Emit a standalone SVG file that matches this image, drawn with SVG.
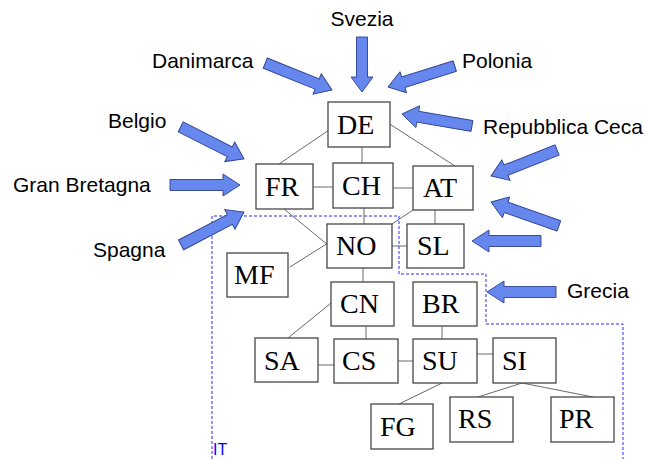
<svg xmlns="http://www.w3.org/2000/svg" width="646" height="459" viewBox="0 0 646 459">
  <style>
    .box { fill: #ffffff; stroke: #474747; stroke-width: 1.3; }
    .code { font-family: "Liberation Serif", "Times New Roman", serif; font-size: 28px; fill: #000000; }
    .link { stroke: #6a6a6a; stroke-width: 1; fill: none; }
    .arrow { fill: #6688ee; stroke: #2c3f90; stroke-width: 0.9; stroke-linejoin: miter; }
    .country { font-family: "Liberation Sans", Arial, sans-serif; font-size: 21px; fill: #000000; }
    .border { fill: none; stroke: #2b2bff; stroke-width: 1; stroke-dasharray: 3 2; }
    .region { font-family: "Liberation Sans", Arial, sans-serif; font-size: 16px; fill: #0000ff; }
  </style>

  <!-- national border of IT -->
  <path class="border" d="M212,459 V216 H399 V274 H486 V324 H623 V459"/>
  <text class="region" x="213" y="455">IT</text>

  <!-- links between the nodes -->
  <g id="connectors">
    <line class="link" x1="329" y1="130" x2="279" y2="164"/>
    <line class="link" x1="362" y1="147" x2="362" y2="163"/>
    <line class="link" x1="388" y1="123" x2="455" y2="166"/>
    <line class="link" x1="313" y1="187" x2="333" y2="187"/>
    <line class="link" x1="393" y1="188" x2="413" y2="188"/>
    <line class="link" x1="284" y1="209" x2="328" y2="245"/>
    <line class="link" x1="290" y1="267" x2="328" y2="243"/>
    <line class="link" x1="364" y1="208" x2="364" y2="224"/>
    <line class="link" x1="413" y1="210" x2="392" y2="224"/>
    <line class="link" x1="435" y1="210" x2="435" y2="224"/>
    <line class="link" x1="392" y1="246" x2="407" y2="246"/>
    <line class="link" x1="363" y1="268" x2="363" y2="282"/>
    <line class="link" x1="331" y1="303" x2="288" y2="338"/>
    <line class="link" x1="366" y1="326" x2="366" y2="339"/>
    <line class="link" x1="442" y1="326" x2="442" y2="339"/>
    <line class="link" x1="318" y1="365" x2="334" y2="365"/>
    <line class="link" x1="398" y1="361" x2="413" y2="361"/>
    <line class="link" x1="477" y1="354" x2="493" y2="354"/>
    <line class="link" x1="442" y1="383" x2="399" y2="404"/>
    <line class="link" x1="522" y1="383" x2="478" y2="397"/>
    <line class="link" x1="522" y1="383" x2="593" y2="397"/>
  </g>

  <!-- nodes -->
  <g id="DE"><rect class="box" x="328" y="102" width="62" height="45"/><text class="code" x="337" y="134">DE</text></g>
  <g id="FR"><rect class="box" x="256" y="164" width="57" height="45"/><text class="code" x="265" y="196">FR</text></g>
  <g id="CH"><rect class="box" x="333" y="163" width="60" height="45"/><text class="code" x="342" y="195">CH</text></g>
  <g id="AT"><rect class="box" x="413" y="166" width="60" height="44"/><text class="code" x="423" y="197">AT</text></g>
  <g id="NO"><rect class="box" x="327" y="224" width="65" height="44"/><text class="code" x="336" y="255">NO</text></g>
  <g id="SL"><rect class="box" x="407" y="224" width="57" height="44"/><text class="code" x="417" y="255">SL</text></g>
  <g id="MF"><rect class="box" x="227" y="253" width="61" height="44"/><text class="code" x="234" y="284">MF</text></g>
  <g id="CN"><rect class="box" x="331" y="282" width="63" height="44"/><text class="code" x="340" y="313">CN</text></g>
  <g id="BR"><rect class="box" x="413" y="282" width="64" height="44"/><text class="code" x="422" y="313">BR</text></g>
  <g id="SA"><rect class="box" x="255" y="338" width="63" height="44"/><text class="code" x="264" y="370">SA</text></g>
  <g id="CS"><rect class="box" x="334" y="339" width="64" height="44"/><text class="code" x="342" y="370">CS</text></g>
  <g id="SU"><rect class="box" x="413" y="339" width="64" height="44"/><text class="code" x="422" y="370">SU</text></g>
  <g id="SI"><rect class="box" x="493" y="338" width="63" height="45"/><text class="code" x="502" y="370">SI</text></g>
  <g id="FG"><rect class="box" x="371" y="404" width="62" height="45"/><text class="code" x="380" y="436">FG</text></g>
  <g id="RS"><rect class="box" x="450" y="397" width="63" height="45"/><text class="code" x="458" y="428">RS</text></g>
  <g id="PR"><rect class="box" x="551" y="397" width="63" height="45"/><text class="code" x="559" y="428">PR</text></g>

  <!-- incoming block arrows (tip at origin, pointing along +x) -->
  <g id="arrows">
    <polygon class="arrow" transform="translate(362,92) rotate(90)" points="-55,-5.5 -15,-5.5 -15,-11 0,0 -15,11 -15,5.5 -55,5.5"/>
    <polygon class="arrow" transform="translate(332,90) rotate(21.9)" points="-72,-5.5 -16,-5.5 -16,-11 0,0 -16,11 -16,5.5 -72,5.5"/>
    <polygon class="arrow" transform="translate(388,87) rotate(162.6)" points="-70,-5.5 -16,-5.5 -16,-11 0,0 -16,11 -16,5.5 -70,5.5"/>
    <polygon class="arrow" transform="translate(402,114) rotate(189.7)" points="-71,-5.5 -16,-5.5 -16,-11 0,0 -16,11 -16,5.5 -71,5.5"/>
    <polygon class="arrow" transform="translate(244,159) rotate(26.9)" points="-71,-5.5 -16,-5.5 -16,-11 0,0 -16,11 -16,5.5 -71,5.5"/>
    <polygon class="arrow" transform="translate(240,185)" points="-70,-5.5 -17,-5.5 -17,-11 0,0 -17,11 -17,5.5 -70,5.5"/>
    <polygon class="arrow" transform="translate(244,212) rotate(-27.6)" points="-71,-5.5 -16,-5.5 -16,-11 0,0 -16,11 -16,5.5 -71,5.5"/>
    <polygon class="arrow" transform="translate(491,176) rotate(158.5)" points="-71,-5.5 -16,-5.5 -16,-11 0,0 -16,11 -16,5.5 -71,5.5"/>
    <polygon class="arrow" transform="translate(491,202) rotate(199.4)" points="-72,-5.5 -16,-5.5 -16,-11 0,0 -16,11 -16,5.5 -72,5.5"/>
    <polygon class="arrow" transform="translate(472,241) rotate(180)" points="-69,-5.5 -17,-5.5 -17,-11 0,0 -17,11 -17,5.5 -69,5.5"/>
    <polygon class="arrow" transform="translate(487,292) rotate(180)" points="-69,-5.5 -17,-5.5 -17,-11 0,0 -17,11 -17,5.5 -69,5.5"/>
  </g>

  <!-- country names -->
  <text class="country" x="362" y="26" text-anchor="middle">Svezia</text>
  <text class="country" x="152" y="68">Danimarca</text>
  <text class="country" x="462" y="68">Polonia</text>
  <text class="country" x="483" y="134">Repubblica Ceca</text>
  <text class="country" x="108" y="128">Belgio</text>
  <text class="country" x="13" y="192">Gran Bretagna</text>
  <text class="country" x="93" y="257">Spagna</text>
  <text class="country" x="567" y="298">Grecia</text>
</svg>
